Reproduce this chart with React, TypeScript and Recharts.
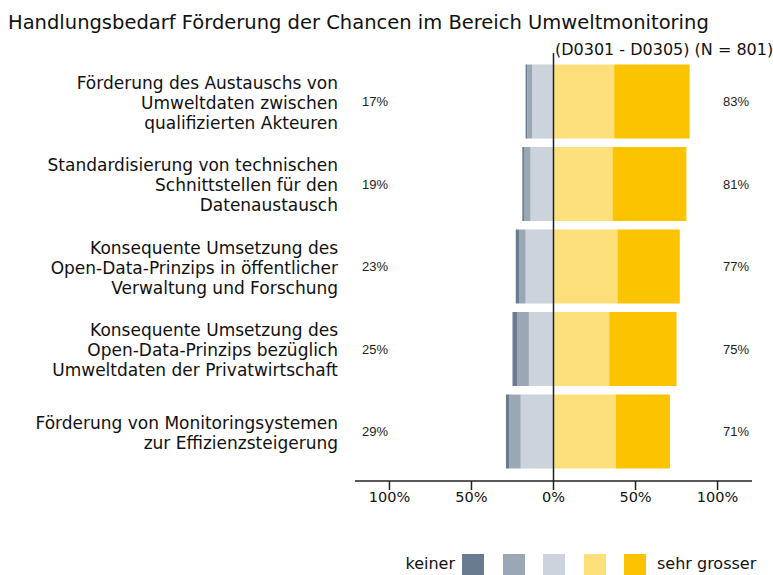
import { BarChart, Bar, XAxis, YAxis, ReferenceLine } from 'recharts'

const categories = [
  ['Förderung des Austauschs von', 'Umweltdaten zwischen', 'qualifizierten Akteuren'],
  ['Standardisierung von technischen', 'Schnittstellen für den', 'Datenaustausch'],
  ['Konsequente Umsetzung des', 'Open-Data-Prinzips in öffentlicher', 'Verwaltung und Forschung'],
  ['Konsequente Umsetzung des', 'Open-Data-Prinzips bezüglich', 'Umweltdaten der Privatwirtschaft'],
  ['Förderung von Monitoringsystemen', 'zur Effizienzsteigerung']
]

// shares in percent, keiner -> sehr grosser
const keiner = [1, 1, 2, 3, 2]
const gering = [3, 4, 4, 7, 7]
const mittel = [13, 14, 17, 15, 20]
const gross = [37, 36, 39, 34, 38]
const sehrGross = [46, 45, 38, 41, 33]

const leftPct = ['17%', '19%', '23%', '25%', '29%']
const rightPct = ['83%', '81%', '77%', '75%', '71%']

const xTicks = [-1, -0.5, 0, 0.5, 1]
const legendLabels = ['keiner', 'sehr grosser']
const colors = ['#687b8f', '#9aa8b6', '#ccd3dc', '#fde07c', '#fcc400']

const data = categories.map((lines, i) => ({
  name: String(i),
  lines,
  left: leftPct[i],
  right: rightPct[i],
  c1: -keiner[i] / 100,
  c2: -gering[i] / 100,
  c3: -mittel[i] / 100,
  c4: gross[i] / 100,
  c5: sehrGross[i] / 100
}))

const font = '"DejaVu Sans", sans-serif'

const CategoryTick = (props: any) => {
  const { y, payload } = props
  const row = data[Number(payload.value)]
  const n = row.lines.length
  return (
    <g>
      {row.lines.map((l: string, k: number) => (
        <text key={k} x={338} y={y + 1 + (k - (n - 1) / 2) * 20} dy="0.35em" textAnchor="end"
          fontFamily={font} fontSize={17} fill="#111">
          {l}
        </text>
      ))}
      <text x={362} y={y} dy="0.35em" fontFamily='"Liberation Sans", Arial' fontSize={13} fill="#222">{row.left}</text>
      <text x={723} y={y} dy="0.35em" fontFamily='"Liberation Sans", Arial' fontSize={13} fill="#222">{row.right}</text>
    </g>
  )
}

const App = () => {
  return (
    <div style={{ position: 'absolute', left: 0, top: 0, width: 773, height: 575, fontFamily: font }}>
      <div style={{ position: 'absolute', left: 8, top: 11, fontSize: 19.5, lineHeight: 'normal', color: '#111', whiteSpace: 'nowrap' }}>
        Handlungsbedarf Förderung der Chancen im Bereich Umweltmonitoring
      </div>
      <div style={{ position: 'absolute', left: 555, top: 40, fontSize: 16, lineHeight: 'normal', color: '#111', whiteSpace: 'nowrap' }}>
        (D0301 - D0305) (N = 801)
      </div>
      <BarChart width={773} height={575} data={data} layout="vertical" stackOffset="sign"
        margin={{ top: 53, right: 21, bottom: 64, left: 0 }} barSize={74}>
        <XAxis type="number" domain={[-1.21, 1.21]} ticks={xTicks} allowDataOverflow
          tickFormatter={(v: number) => `${Math.round(Math.abs(v) * 100)}%`}
          stroke="#222" strokeWidth={1.5} tickSize={9} height={30}
          tick={{ fill: '#111', fontSize: 14.5, fontFamily: font }} />
        <YAxis type="category" dataKey="name" width={355} axisLine={false} tickLine={false}
          padding={{ top: 7.5, bottom: 8 }} tick={<CategoryTick />} interval={0} />
        <Bar dataKey="c3" stackId="a" fill={colors[2]} isAnimationActive={false} />
        <Bar dataKey="c2" stackId="a" fill={colors[1]} isAnimationActive={false} />
        <Bar dataKey="c1" stackId="a" fill={colors[0]} isAnimationActive={false} />
        <Bar dataKey="c4" stackId="a" fill={colors[3]} isAnimationActive={false} />
        <Bar dataKey="c5" stackId="a" fill={colors[4]} isAnimationActive={false} />
        <ReferenceLine x={0} stroke="#222" strokeWidth={1.5} />
      </BarChart>
      <div style={{ position: 'absolute', left: 0, top: 554, width: 773, height: 22 }}>
        <span style={{ position: 'absolute', right: 773 - 455, top: 0, fontSize: 16, color: '#111', lineHeight: '20px' }}>
          {legendLabels[0]}
        </span>
        {colors.map((c, i) => (
          <div key={c} style={{ position: 'absolute', left: 462 + i * 40.5, top: 0, width: 22, height: 22, background: c }} />
        ))}
        <span style={{ position: 'absolute', left: 657, top: 0, fontSize: 16, color: '#111', lineHeight: '20px', whiteSpace: 'nowrap' }}>
          {legendLabels[1]}
        </span>
      </div>
    </div>
  )
}

export default App
